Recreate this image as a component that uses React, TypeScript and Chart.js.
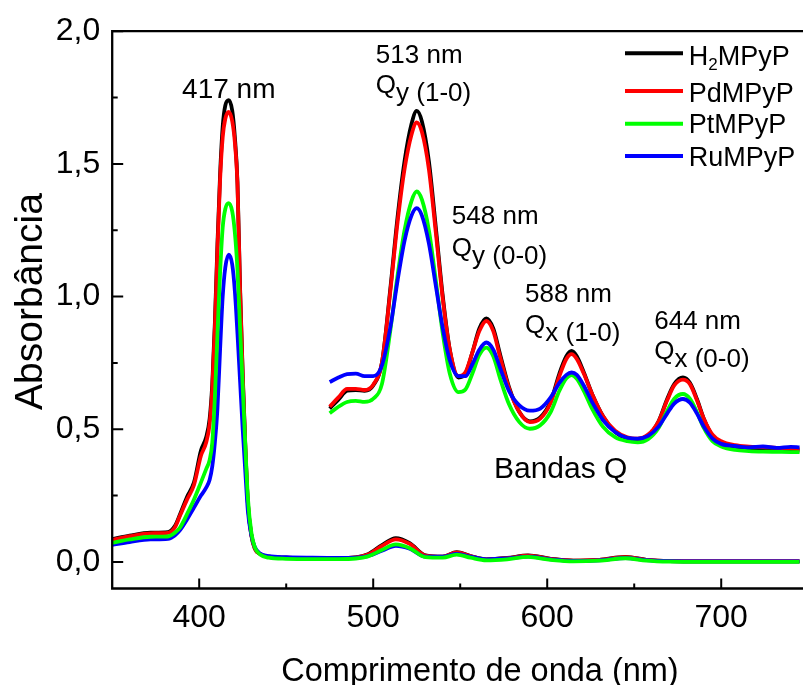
import React, { useEffect, useRef } from 'react';
import { Chart, registerables } from 'chart.js';

Chart.register(...registerables);

const FONT = '"Liberation Sans", Arial, sans-serif';

// ---- Full UV-Vis spectra (nm, absorbance) ----
const wavelength = [
  350, 360, 372, 382, 386, 389, 393, 397,
  401, 404, 406, 407.5, 409, 410.5, 412, 413.5, 415, 417,
  419, 420.5, 422, 423.5, 425, 426.5, 428, 430, 432, 435, 440,
  450, 465, 480, 490, 497, 505, 513, 521, 530, 540, 548,
  556, 565, 577, 589, 602, 615, 630, 645, 657, 670, 690, 720, 745,
];
const absH2 = [
  0.086, 0.099, 0.110, 0.112, 0.135, 0.180, 0.245, 0.300,
  0.420, 0.470, 0.540, 0.670, 0.900, 1.200, 1.460, 1.640, 1.720, 1.740,
  1.700, 1.600, 1.430, 1.030, 0.710, 0.440, 0.220, 0.100, 0.050, 0.030, 0.020,
  0.016, 0.014, 0.014, 0.017, 0.029, 0.063, 0.090, 0.071, 0.025, 0.020, 0.037,
  0.022, 0.010, 0.015, 0.025, 0.012, 0.005, 0.008, 0.019, 0.008, 0.003, 0.002, 0.002, 0.002,
];
const absPd = [
  0.083, 0.097, 0.108, 0.110, 0.130, 0.175, 0.235, 0.290,
  0.400, 0.450, 0.520, 0.650, 0.880, 1.180, 1.440, 1.600, 1.670, 1.696,
  1.660, 1.580, 1.420, 1.020, 0.700, 0.430, 0.220, 0.100, 0.050, 0.030, 0.020,
  0.016, 0.014, 0.014, 0.017, 0.028, 0.060, 0.085, 0.068, 0.024, 0.020, 0.036,
  0.022, 0.010, 0.014, 0.024, 0.012, 0.005, 0.008, 0.018, 0.008, 0.003, 0.002, 0.002, 0.002,
];
const absPt = [
  0.072, 0.085, 0.095, 0.096, 0.110, 0.130, 0.180, 0.235,
  0.300, 0.350, 0.385, 0.450, 0.620, 0.860, 1.090, 1.260, 1.330, 1.352,
  1.320, 1.240, 1.100, 0.880, 0.660, 0.440, 0.240, 0.110, 0.055, 0.028, 0.016,
  0.012, 0.011, 0.011, 0.013, 0.021, 0.045, 0.066, 0.052, 0.018, 0.016, 0.028,
  0.016, 0.006, 0.010, 0.019, 0.008, 0.002, 0.005, 0.014, 0.005, 0.001, 0.000, 0.000, 0.000,
];
const absRu = [
  0.064, 0.075, 0.085, 0.087, 0.100, 0.120, 0.160, 0.205,
  0.250, 0.280, 0.310, 0.360, 0.450, 0.580, 0.800, 1.000, 1.110, 1.158,
  1.120, 1.020, 0.860, 0.680, 0.500, 0.340, 0.190, 0.100, 0.055, 0.032, 0.022,
  0.018, 0.016, 0.015, 0.016, 0.022, 0.042, 0.061, 0.050, 0.020, 0.020, 0.030,
  0.020, 0.010, 0.013, 0.020, 0.010, 0.004, 0.006, 0.015, 0.007, 0.003, 0.002, 0.002, 0.002,
];

// ---- Magnified Q-band region, plotted on the same axes ----
const qPosition = [
  475, 480, 485, 490, 495, 500, 505, 510, 514, 518, 522,
  525, 528, 532, 536, 540, 544, 549, 553, 557, 561, 565,
  569, 573, 578, 584, 590, 596, 602, 607, 611, 614, 617,
  621, 626, 632, 639, 646, 652, 658, 664, 669, 673, 678,
  682, 686, 690, 695, 700, 708, 716, 724, 732, 740, 745,
];
const qH2 = [
  0.578, 0.612, 0.645, 0.648, 0.645, 0.665, 0.750, 1.040, 1.300, 1.510, 1.650,
  1.700, 1.660, 1.510, 1.260, 1.000, 0.800, 0.695, 0.710, 0.790, 0.880, 0.918,
  0.880, 0.780, 0.660, 0.565, 0.530, 0.545, 0.605, 0.710, 0.775, 0.795, 0.775,
  0.715, 0.630, 0.550, 0.490, 0.465, 0.460, 0.475, 0.530, 0.615, 0.670, 0.695,
  0.675, 0.615, 0.540, 0.475, 0.450, 0.433, 0.428, 0.425, 0.423, 0.422, 0.420,
];
const qPd = [
  0.585, 0.620, 0.652, 0.652, 0.648, 0.668, 0.750, 1.030, 1.280, 1.480, 1.610,
  1.656, 1.620, 1.480, 1.240, 0.990, 0.800, 0.700, 0.715, 0.790, 0.870, 0.908,
  0.870, 0.770, 0.655, 0.565, 0.527, 0.540, 0.600, 0.700, 0.765, 0.783, 0.765,
  0.710, 0.630, 0.550, 0.495, 0.470, 0.465, 0.480, 0.530, 0.610, 0.665, 0.687,
  0.670, 0.610, 0.540, 0.480, 0.455, 0.440, 0.435, 0.433, 0.430, 0.428, 0.425,
];
const qPt = [
  0.560, 0.585, 0.603, 0.607, 0.603, 0.615, 0.670, 0.880, 1.080, 1.250, 1.360,
  1.396, 1.365, 1.250, 1.060, 0.860, 0.710, 0.640, 0.650, 0.710, 0.780, 0.808,
  0.775, 0.690, 0.595, 0.527, 0.502, 0.515, 0.565, 0.645, 0.692, 0.704, 0.690,
  0.645, 0.575, 0.510, 0.470, 0.455, 0.451, 0.463, 0.505, 0.570, 0.615, 0.633,
  0.615, 0.565, 0.505, 0.455, 0.435, 0.422, 0.418, 0.416, 0.415, 0.414, 0.414,
];
const qRu = [
  0.678, 0.695, 0.708, 0.710, 0.700, 0.700, 0.740, 0.890, 1.060, 1.210, 1.305,
  1.333, 1.305, 1.200, 1.040, 0.880, 0.760, 0.700, 0.700, 0.745, 0.800, 0.827,
  0.800, 0.730, 0.645, 0.590, 0.570, 0.578, 0.620, 0.675, 0.705, 0.714, 0.705,
  0.665, 0.600, 0.535, 0.490, 0.468, 0.465, 0.475, 0.510, 0.560, 0.597, 0.614,
  0.600, 0.560, 0.510, 0.465, 0.445, 0.437, 0.432, 0.435, 0.430, 0.434, 0.432,
];

// ---- Series, ticks and labels ----
const seriesColors = ['#000000', '#ff0000', '#00ff00', '#0000ff'];
const legendNames = [
  { main: 'H', sub: '2', rest: 'MPyP' },
  { main: 'PdMPyP', sub: '', rest: '' },
  { main: 'PtMPyP', sub: '', rest: '' },
  { main: 'RuMPyP', sub: '', rest: '' },
];

const xMajorTicks = [400, 500, 600, 700];
const xMinorTicks = [450, 550, 650];
const yMajorTicks = [0, 0.5, 1.0, 1.5, 2.0];
const yMinorTicks = [0.25, 0.75, 1.25, 1.75];

const soretLabel = { text: '417 nm', x: 417, y: 1.7475 };
const bandLabels = [
  { nm: '513 nm', sub: 'y', trans: '(1-0)', x: 501.5, y: 1.879, yQ: 1.766 },
  { nm: '548 nm', sub: 'y', trans: '(0-0)', x: 545.2, y: 1.272, yQ: 1.153 },
  { nm: '588 nm', sub: 'x', trans: '(1-0)', x: 587.3, y: 0.980, yQ: 0.864 },
  { nm: '644 nm', sub: 'x', trans: '(0-0)', x: 661.5, y: 0.877, yQ: 0.764 },
];
const regionLabel = { text: 'Bandas Q', x: 569.4, y: 0.317 };

const xTitle = 'Comprimento de onda (nm)';
const yTitle = 'Absorbância';

const toPoints = (xs: number[], ys: number[]) => xs.map((x, i) => ({ x, y: ys[i] }));

const line = (data: { x: number; y: number }[], color: string) => ({
  data,
  borderColor: color,
  backgroundColor: color,
  borderWidth: 3.8,
  pointRadius: 0,
  fill: false,
  cubicInterpolationMode: 'monotone' as const,
});

const decorPlugin = {
  id: 'decor',
  afterDraw(chart: any) {
    const { ctx, chartArea: a, scales } = chart;
    const xs = scales.x;
    const ys = scales.y;
    ctx.save();
    ctx.strokeStyle = '#000';
    ctx.fillStyle = '#000';

    // frame: top, left, bottom
    ctx.lineWidth = 2.3;
    ctx.lineJoin = 'miter';
    ctx.beginPath();
    ctx.moveTo(a.right, a.top);
    ctx.lineTo(a.left, a.top);
    ctx.lineTo(a.left, a.bottom);
    ctx.lineTo(a.right, a.bottom);
    ctx.stroke();

    // inward tick marks
    ctx.lineWidth = 2;
    ctx.beginPath();
    xMajorTicks.forEach((v) => {
      const p = xs.getPixelForValue(v);
      ctx.moveTo(p, a.bottom);
      ctx.lineTo(p, a.bottom - 10);
    });
    xMinorTicks.forEach((v) => {
      const p = xs.getPixelForValue(v);
      ctx.moveTo(p, a.bottom);
      ctx.lineTo(p, a.bottom - 5);
    });
    yMajorTicks.forEach((v) => {
      const p = ys.getPixelForValue(v);
      ctx.moveTo(a.left, p);
      ctx.lineTo(a.left + 11, p);
    });
    yMinorTicks.forEach((v) => {
      const p = ys.getPixelForValue(v);
      ctx.moveTo(a.left, p);
      ctx.lineTo(a.left + 5.5, p);
    });
    ctx.stroke();

    // axis titles
    ctx.textBaseline = 'alphabetic';
    ctx.font = `32.5px ${FONT}`;
    ctx.textAlign = 'center';
    ctx.fillText(xTitle, 480, 681);
    ctx.save();
    ctx.translate(41.7, 301.5);
    ctx.rotate(-Math.PI / 2);
    ctx.font = `39px ${FONT}`;
    ctx.fillText(yTitle, 0, 0);
    ctx.restore();

    // peak annotations
    ctx.font = `28px ${FONT}`;
    ctx.textAlign = 'center';
    ctx.fillText(soretLabel.text, xs.getPixelForValue(soretLabel.x), ys.getPixelForValue(soretLabel.y));
    ctx.textAlign = 'left';
    ctx.font = `26px ${FONT}`;
    bandLabels.forEach((b) => {
      const px = xs.getPixelForValue(b.x);
      ctx.fillText(b.nm, px, ys.getPixelForValue(b.y));
      const qy = ys.getPixelForValue(b.yQ);
      ctx.fillText('Q', px, qy);
      const w = ctx.measureText('Q').width;
      ctx.fillText(`${b.sub} ${b.trans}`, px + w, qy + 8);
    });
    ctx.font = `30px ${FONT}`;
    ctx.fillText(regionLabel.text, xs.getPixelForValue(regionLabel.x), ys.getPixelForValue(regionLabel.y));

    // legend
    const lineY = [53.3, 91, 123.7, 156];
    const textY = [65, 101.7, 133.3, 165.7];
    ctx.lineWidth = 4;
    legendNames.forEach((n, i) => {
      ctx.strokeStyle = seriesColors[i];
      ctx.beginPath();
      ctx.moveTo(625, lineY[i]);
      ctx.lineTo(683, lineY[i]);
      ctx.stroke();
      ctx.font = `27px ${FONT}`;
      let tx = 688.7;
      ctx.fillText(n.main, tx, textY[i]);
      tx += ctx.measureText(n.main).width;
      if (n.sub) {
        ctx.font = `17px ${FONT}`;
        ctx.fillText(n.sub, tx, textY[i] + 5);
        tx += ctx.measureText(n.sub).width;
        ctx.font = `27px ${FONT}`;
      }
      if (n.rest) ctx.fillText(n.rest, tx, textY[i]);
    });

    ctx.restore();
  },
};

export default function App() {
  const ref = useRef<HTMLCanvasElement>(null);

  useEffect(() => {
    document.body.style.margin = '0';
    const canvas = ref.current;
    if (!canvas) return;

    const datasets = [
      // magnified Q bands (blue drawn on top)
      line(toPoints(qPosition, qRu), seriesColors[3]),
      line(toPoints(qPosition, qPt), seriesColors[2]),
      line(toPoints(qPosition, qPd), seriesColors[1]),
      line(toPoints(qPosition, qH2), seriesColors[0]),
      // full spectra
      line(toPoints(wavelength, absPt), seriesColors[2]),
      line(toPoints(wavelength, absRu), seriesColors[3]),
      line(toPoints(wavelength, absPd), seriesColors[1]),
      line(toPoints(wavelength, absH2), seriesColors[0]),
    ];

    const chart = new Chart(canvas, {
      type: 'line',
      data: { datasets },
      options: {
        responsive: false,
        animation: false,
        devicePixelRatio: 1,
        layout: { padding: { top: 29.5, right: 0, left: 0, bottom: 0 } },
        plugins: {
          legend: { display: false },
          tooltip: { enabled: false },
        },
        scales: {
          x: {
            type: 'linear',
            min: 350,
            max: 747,
            grid: { display: false, drawTicks: false },
            border: { display: false },
            afterBuildTicks: (s: any) => {
              s.ticks = xMajorTicks.map((v) => ({ value: v }));
            },
            afterFit: (s: any) => {
              s.height = 96.5;
            },
            ticks: {
              autoSkip: false,
              maxRotation: 0,
              padding: 10,
              color: '#000',
              font: { family: FONT, size: 32 },
              callback: (v: any) => String(v),
            },
          },
          y: {
            type: 'linear',
            min: -0.1,
            max: 2.0,
            grid: { display: false, drawTicks: false },
            border: { display: false },
            afterBuildTicks: (s: any) => {
              s.ticks = yMajorTicks.map((v) => ({ value: v }));
            },
            afterFit: (s: any) => {
              s.width = 112.2;
            },
            ticks: {
              autoSkip: false,
              padding: 12,
              color: '#000',
              font: { family: FONT, size: 32 },
              callback: (v: any) => Number(v).toFixed(1).replace('.', ','),
            },
          },
        },
      },
      plugins: [decorPlugin],
    } as any);

    return () => chart.destroy();
  }, []);

  return (
    <div style={{ width: 803, height: 685 }}>
      <canvas ref={ref} width={803} height={685} style={{ display: 'block', width: 803, height: 685 }} />
    </div>
  );
}
